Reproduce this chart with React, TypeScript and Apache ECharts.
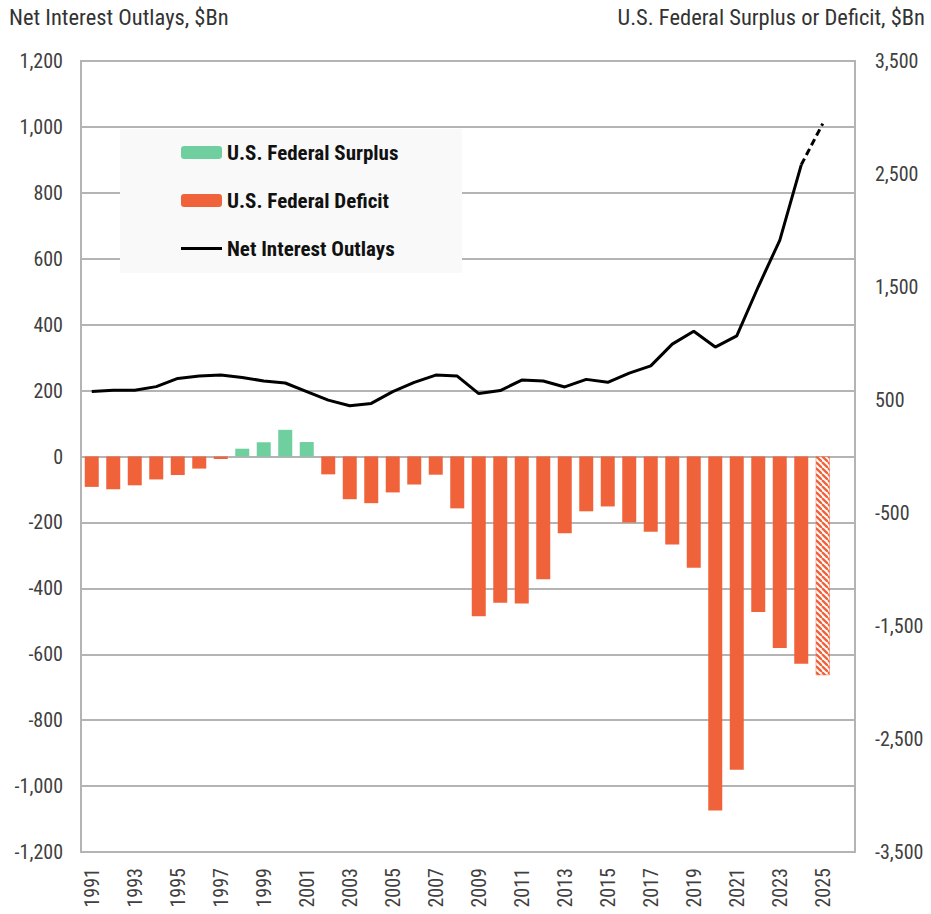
import React, { useEffect, useRef } from "react";
import * as echarts from "echarts";

const years = [
  "1991", "1992", "1993", "1994", "1995", "1996", "1997", "1998", "1999", "2000",
  "2001", "2002", "2003", "2004", "2005", "2006", "2007", "2008", "2009", "2010",
  "2011", "2012", "2013", "2014", "2015", "2016", "2017", "2018", "2019", "2020",
  "2021", "2022", "2023", "2024", "2025", "2026",
];

// Net interest outlays, $Bn (left axis); 2025 is a projection
const netInterest = [
  197, 201, 201, 212, 237, 244, 247, 240, 229, 223,
  197, 171, 154, 161, 197, 225, 247, 244, 191, 200,
  232, 229, 211, 234, 225, 253, 275, 341, 380, 332,
  366, 515, 656, 885, 1010,
];

// Federal surplus (+) or deficit (-), $Bn (right axis); 2025 is a projection
const balance = [
  -269, -290, -255, -203, -164, -107, -22, 69, 126, 236,
  128, -158, -378, -413, -318, -248, -161, -459, -1413, -1294,
  -1300, -1087, -680, -485, -442, -585, -665, -779, -984, -3132,
  -2772, -1376, -1695, -1833, -1935,
];

const lastActualYear = "2024";
const projectedYear = "2025";

const leftTicks = { min: -1200, max: 1200, interval: 200 };
const rightTicks = { min: -3500, max: 3500, interval: 500 };

const GREEN = "#6fcf9f";
const ORANGE = "#f0623a";
const FONT = "'Liberation Sans Narrow', 'Arial Narrow', 'Roboto Condensed', 'DejaVu Sans Condensed', sans-serif";
const GRID = "#b4b4b4";

const fmt = (v: number) => v.toLocaleString("en-US");

function makeHatch(): HTMLCanvasElement {
  const s = 6;
  const c = document.createElement("canvas");
  c.width = s;
  c.height = s;
  const ctx = c.getContext("2d");
  if (ctx) {
    ctx.fillStyle = "#ffffff";
    ctx.fillRect(0, 0, s, s);
    ctx.strokeStyle = ORANGE;
    ctx.lineWidth = 2.3;
    for (const x0 of [-s, 0, s]) {
      ctx.beginPath();
      ctx.moveTo(x0, 0);
      ctx.lineTo(x0 + s, s);
      ctx.stroke();
    }
  }
  return c;
}

export default function App() {
  const ref = useRef<HTMLDivElement>(null);

  useEffect(() => {
    if (!ref.current) return;
    const chart = echarts.init(ref.current, null, { renderer: "svg" });

    const lastIdx = years.indexOf(lastActualYear);
    const projIdx = years.indexOf(projectedYear);

    const hatch = makeHatch();

    const surplus = balance.map((v) => (v > 0 ? v : null));
    const deficit: any[] = balance.map((v, i) => {
      if (v >= 0) return null;
      if (i === projIdx) {
        return {
          value: v,
          itemStyle: {
            color: { image: hatch, repeat: "repeat" },
            borderColor: ORANGE,
            borderWidth: 0.5,
          },
        };
      }
      return v;
    });
    const solid = netInterest.map((v, i) => (i <= lastIdx ? v : null));
    const dashed = netInterest.map((v, i) => (i >= lastIdx ? v : null));

    const legendText = {
      fontFamily: FONT,
      fontWeight: "bold",
      fontSize: 21,
      color: "#111",
      lineHeight: 20,
    };
    const legendBase = {
      orient: "horizontal",
      left: 181,
      padding: 0,
      itemWidth: 41,
      itemHeight: 13,
      selectedMode: false,
      textStyle: legendText,
      z: 10,
    };

    chart.setOption({
      animation: false,
      backgroundColor: "#ffffff",
      title: [
        {
          text: "Net Interest Outlays, $Bn",
          left: 9,
          top: 5,
          padding: 0,
          textStyle: { fontFamily: FONT, fontSize: 22.5, fontWeight: "normal", color: "#333" },
        },
        {
          text: "U.S. Federal Surplus or Deficit, $Bn",
          right: 6,
          top: 5,
          padding: 0,
          textStyle: { fontFamily: FONT, fontSize: 22.5, fontWeight: "normal", color: "#333" },
        },
      ],
      graphic: [
        {
          type: "rect",
          z: 5,
          shape: { x: 120, y: 129, width: 342, height: 144 },
          style: { fill: "#f9f9f9" },
        },
      ],
      legend: [
        { ...legendBase, top: 142, data: ["U.S. Federal Surplus"] },
        { ...legendBase, top: 190, data: ["U.S. Federal Deficit"] },
        {
          ...legendBase,
          top: 238,
          itemHeight: 3,
          data: [{ name: "Net Interest Outlays", icon: "rect", itemStyle: { color: "#000" } }],
        },
      ],
      grid: {
        left: 81,
        right: 76,
        top: 61,
        bottom: 62,
        show: true,
        borderColor: GRID,
        borderWidth: 2,
        containLabel: false,
      },
      xAxis: {
        type: "category",
        data: years,
        boundaryGap: true,
        axisLine: { show: false },
        axisTick: { show: false },
        axisLabel: {
          interval: 1,
          rotate: 90,
          margin: 16,
          fontFamily: FONT,
          fontSize: 20,
          color: "#404040",
        },
        splitLine: { show: false },
      },
      yAxis: [
        {
          type: "value",
          position: "left",
          ...leftTicks,
          axisLine: { show: true, lineStyle: { color: GRID, width: 2 } },
          axisTick: { show: false },
          axisLabel: {
            margin: 18,
            fontFamily: FONT,
            fontSize: 20,
            color: "#404040",
            formatter: (v: number) => fmt(v),
          },
          splitLine: { show: true, lineStyle: { color: GRID, width: 2 } },
        },
        {
          type: "value",
          position: "right",
          ...rightTicks,
          axisLine: { show: true, lineStyle: { color: GRID, width: 2 } },
          axisTick: { show: false },
          axisLabel: {
            margin: 20,
            fontFamily: FONT,
            fontSize: 20,
            color: "#404040",
            formatter: (v: number) => (Math.abs(v) % 1000 === 500 ? fmt(v) : ""),
          },
          splitLine: { show: false },
        },
      ],
      series: [
        {
          name: "U.S. Federal Surplus",
          type: "bar",
          yAxisIndex: 1,
          stack: "balance",
          barWidth: 14,
          itemStyle: { color: GREEN },
          data: surplus,
        },
        {
          name: "U.S. Federal Deficit",
          type: "bar",
          yAxisIndex: 1,
          stack: "balance",
          barWidth: 14,
          itemStyle: { color: ORANGE },
          data: deficit,
        },
        {
          name: "Net Interest Outlays",
          type: "line",
          yAxisIndex: 0,
          symbol: "none",
          z: 4,
          lineStyle: { color: "#000", width: 3 },
          itemStyle: { color: "#000" },
          data: solid,
        },
        {
          name: "Net Interest Outlays (projected)",
          type: "line",
          yAxisIndex: 0,
          symbol: "none",
          z: 4,
          lineStyle: { color: "#000", width: 3, type: [7, 4] },
          itemStyle: { color: "#000" },
          data: dashed,
        },
      ],
    });

    return () => chart.dispose();
  }, []);

  return (
    <div
      ref={ref}
      style={{ position: "fixed", left: 0, top: 0, width: 931, height: 914, background: "#fff" }}
    />
  );
}
